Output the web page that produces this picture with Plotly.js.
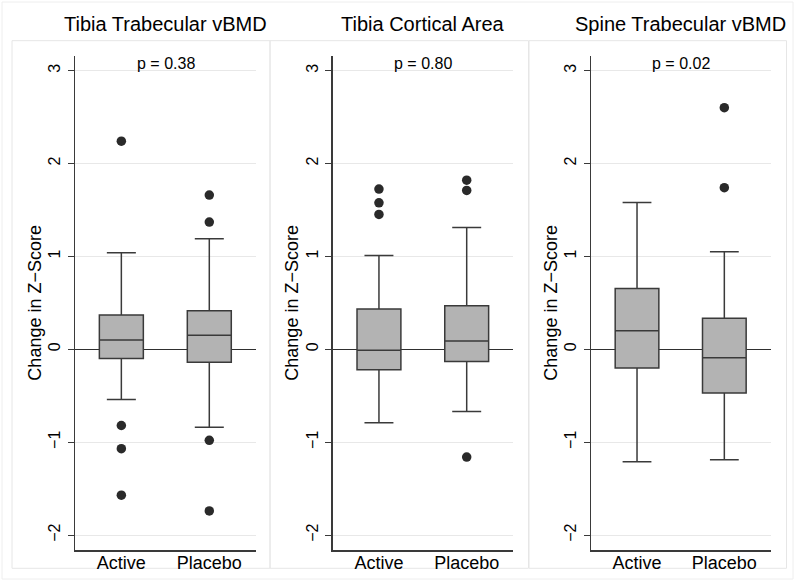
<!DOCTYPE html>
<html>
<head>
<meta charset="utf-8">
<script src="https://cdn.plot.ly/plotly-3.0.1.min.js"></script>
<style>html,body{margin:0;padding:0;background:#fff;}#chart{width:800px;height:582px;}</style>
</head>
<body>
<div id="chart"></div>
<script>
// ---- data ----
const groups = ['Active', 'Placebo'];
const groupPos = [0, 1];
const panelTitles = ['Tibia Trabecular vBMD', 'Tibia Cortical Area', 'Spine Trabecular vBMD'];
const pLabels = ['p = 0.38', 'p = 0.80', 'p = 0.02'];
const yTickVals = [-2, -1, 0, 1, 2, 3];
const yTitle = 'Change in Z\u2212Score';

// Tibia Trabecular vBMD
const tt_q1 = [-0.10, -0.14];
const tt_median = [0.10, 0.15];
const tt_q3 = [0.37, 0.415];
const tt_lower = [-0.54, -0.84];
const tt_upper = [1.04, 1.19];
const tt_outActive = [2.24, -0.82, -1.07, -1.57];
const tt_outPlacebo = [1.66, 1.37, -0.98, -1.74];

// Tibia Cortical Area
const tc_q1 = [-0.22, -0.13];
const tc_median = [-0.01, 0.09];
const tc_q3 = [0.435, 0.47];
const tc_lower = [-0.79, -0.67];
const tc_upper = [1.01, 1.31];
const tc_outActive = [1.725, 1.577, 1.452];
const tc_outPlacebo = [1.82, 1.71, -1.16];

// Spine Trabecular vBMD
const st_q1 = [-0.20, -0.47];
const st_median = [0.20, -0.09];
const st_q3 = [0.655, 0.335];
const st_lower = [-1.21, -1.19];
const st_upper = [1.58, 1.05];
const st_outActive = [];
const st_outPlacebo = [2.60, 1.74];

const panels = [
  {q1: tt_q1, med: tt_median, q3: tt_q3, lo: tt_lower, hi: tt_upper, oa: tt_outActive, op: tt_outPlacebo},
  {q1: tc_q1, med: tc_median, q3: tc_q3, lo: tc_lower, hi: tc_upper, oa: tc_outActive, op: tc_outPlacebo},
  {q1: st_q1, med: st_median, q3: st_q3, lo: st_lower, hi: st_upper, oa: st_outActive, op: st_outPlacebo}
];

// ---- layout helpers (pixels -> paper) ----
const W = 800, H = 582;
const px = x => x / W;
const py = y => 1 - y / H;
const plotX = [[75, 256], [332.7, 513.3], [591, 770.7]];
const plotTop = 55.7, plotBottom = 550;
const frames = [[12, 270], [270, 528.5], [529, 786.5]];
const FONT = 'Liberation Sans, Arial, Helvetica, sans-serif';
const DARK = '#3a3a3a';

const traces = [];
panels.forEach((p, i) => {
  const sfx = i === 0 ? '' : String(i + 1);
  traces.push({
    type: 'box',
    x: groupPos,
    q1: p.q1, median: p.med, q3: p.q3,
    lowerfence: p.lo, upperfence: p.hi,
    width: 0.5,
    whiskerwidth: 0.66,
    fillcolor: '#b3b3b3',
    line: {color: DARK, width: 1.5},
    boxpoints: false,
    hoverinfo: 'skip',
    xaxis: 'x' + sfx, yaxis: 'y' + sfx,
    showlegend: false
  });
  const ox = [], oy = [];
  p.oa.forEach(v => { ox.push(groupPos[0]); oy.push(v); });
  p.op.forEach(v => { ox.push(groupPos[1]); oy.push(v); });
  traces.push({
    type: 'scatter', mode: 'markers',
    x: ox, y: oy,
    marker: {color: '#2a2a2a', size: 9.5},
    hoverinfo: 'skip',
    xaxis: 'x' + sfx, yaxis: 'y' + sfx,
    showlegend: false
  });
});

const layout = {
  width: W, height: H,
  margin: {l: 0, r: 0, t: 0, b: 0},
  paper_bgcolor: '#ffffff',
  plot_bgcolor: '#ffffff',
  font: {family: FONT, color: '#000'},
  showlegend: false,
  shapes: [],
  annotations: []
};

// outer frame
layout.shapes.push({type: 'rect', xref: 'paper', yref: 'paper', layer: 'below',
  x0: px(2), x1: px(793), y0: py(579), y1: py(2),
  line: {color: '#eeeeee', width: 1}, fillcolor: 'rgba(0,0,0,0)'});

panels.forEach((p, i) => {
  const sfx = i === 0 ? '' : String(i + 1);
  const xa = 'xaxis' + sfx, ya = 'yaxis' + sfx;
  layout[xa] = {
    domain: [px(plotX[i][0]), px(plotX[i][1])],
    anchor: 'y' + sfx,
    range: [-0.527, 1.531],
    tickvals: groupPos,
    ticktext: groups,
    ticks: '',
    ticklabelstandoff: -4,
    showgrid: false,
    zeroline: false,
    showline: true,
    linecolor: DARK,
    linewidth: 1.5,
    tickfont: {size: 18, family: FONT, color: '#000'},
    fixedrange: true
  };
  layout[ya] = {
    domain: [py(plotBottom), py(plotTop)],
    anchor: 'x' + sfx,
    range: [-2.16, 3.16],
    tickvals: yTickVals,
    ticks: 'outside',
    ticklen: 6,
    tickwidth: 1.2,
    tickcolor: DARK,
    tickangle: -90,
    ticklabelstandoff: 1,
    tickfont: {size: 16, family: FONT, color: '#000'},
    showgrid: true,
    gridcolor: '#e8e8e8',
    gridwidth: 1,
    zeroline: true,
    zerolinecolor: '#2f2f2f',
    zerolinewidth: 1.6,
    showline: true,
    linecolor: DARK,
    linewidth: 1.5,
    title: {text: yTitle, font: {size: 18, family: FONT, color: '#000'}, standoff: 0},
    fixedrange: true
  };
  // panel frame
  layout.shapes.push({type: 'rect', xref: 'paper', yref: 'paper', layer: 'below',
    x0: px(frames[i][0]), x1: px(frames[i][1]), y0: py(568.3), y1: py(40.7),
    line: {color: '#e6e6e6', width: 1}, fillcolor: 'rgba(0,0,0,0)'});
  const cx = (plotX[i][0] + plotX[i][1]) / 2;
  layout.annotations.push({
    xref: 'paper', yref: 'paper', x: px(cx), y: py(24),
    xanchor: 'center', yanchor: 'middle', showarrow: false,
    text: panelTitles[i], font: {size: 20, family: FONT, color: '#000'}
  });
  layout.annotations.push({
    xref: 'paper', yref: 'paper', x: px(cx), y: py(63.5),
    xanchor: 'center', yanchor: 'middle', showarrow: false,
    text: pLabels[i], font: {size: 16, family: FONT, color: '#000'}
  });
});

Plotly.newPlot('chart', traces, layout, {staticPlot: true, displayModeBar: false});
</script>
</body>
</html>
